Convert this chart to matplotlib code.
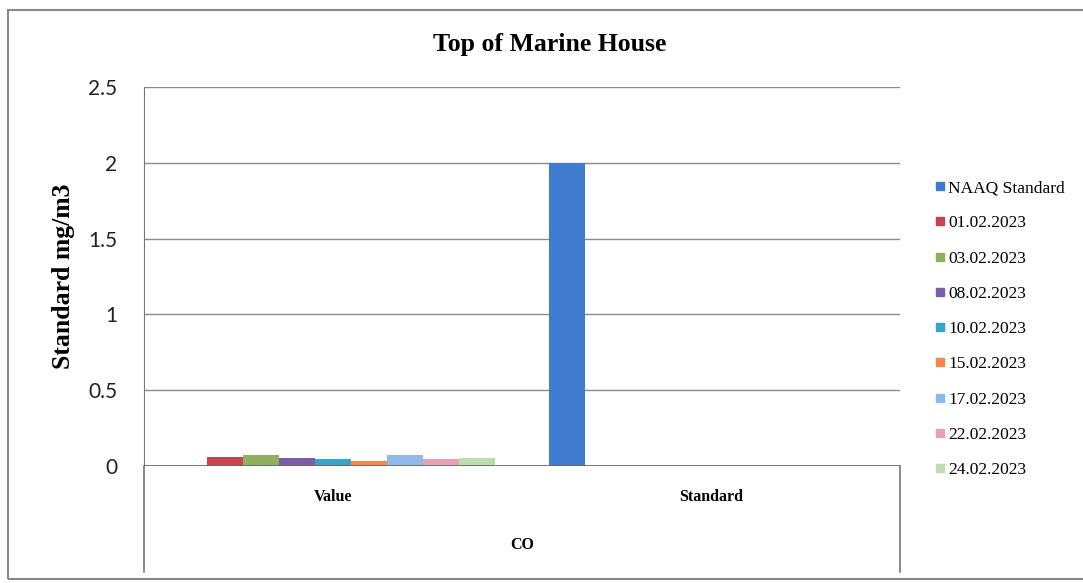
import matplotlib.pyplot as plt
from matplotlib.lines import Line2D
from matplotlib.patches import Rectangle

# data (CO, mg/m3)
categories = ['Value', 'Standard']
series_names = ['NAAQ Standard', '01.02.2023', '03.02.2023', '08.02.2023',
                '10.02.2023', '15.02.2023', '17.02.2023', '22.02.2023', '24.02.2023']
value_row = [0, 0.061, 0.070, 0.055, 0.044, 0.033, 0.073, 0.048, 0.055]
standard_row = [2, 0, 0, 0, 0, 0, 0, 0, 0]
colors = ['#3f7bcf', '#c8434f', '#8fb15f', '#7a5fa8', '#3aa3c8',
          '#f4884a', '#91b8ea', '#e6a2b5', '#bfdcae']
y_ticks = [0, 0.5, 1, 1.5, 2, 2.5]

serif = 'Liberation Serif'

fig = plt.figure(figsize=(10.83, 5.83), dpi=100)
ax = fig.add_axes([144 / 1083, 1 - 466 / 583, 756 / 1083, 379 / 583])

n = len(series_names)
w = 1 / (n + 1.5)
for i, name in enumerate(series_names):
    off = (i - (n - 1) / 2) * w
    ax.bar([0 + off, 1 + off], [value_row[i], standard_row[i]], width=w,
           color=colors[i], label=name, zorder=3)

ax.set_xlim(-0.5, 1.5)
ax.set_ylim(0, 2.5)
ax.set_yticks(y_ticks)
ax.set_yticklabels(['0', '0.5', '1', '1.5', '2', '2.5'], family='Lato', fontsize=15,
                   color='#222222')
ax.tick_params(axis='y', length=0, pad=19)
ax.tick_params(axis='x', length=0, labelbottom=False)
ax.grid(axis='y', color='#8a8a8a', linewidth=1.0, zorder=0)
for s in ['top', 'right', 'bottom']:
    ax.spines[s].set_visible(False)
ax.spines['left'].set_color('#777777')
ax.axhline(0, color='#666666', linewidth=1.2, zorder=4)

# multi-level category axis
for xa in [0, 1]:
    ax.add_line(Line2D([xa, xa], [0, -0.28], transform=ax.transAxes,
                       color='#777777', linewidth=1.2, clip_on=False))
for i, cat in enumerate(categories):
    ax.text(i, -0.082, cat, transform=ax.get_xaxis_transform(), ha='center',
            va='center', family=serif, fontweight='bold', fontsize=11.5)
ax.text(0.5, -0.208, 'CO', transform=ax.transAxes, ha='center', va='center',
        family=serif, fontweight='bold', fontsize=11.5)

ax.set_ylabel('Standard mg/m3', family=serif, fontweight='bold', fontsize=18.5,
              labelpad=10)
fig.text(550 / 1083, 1 - 45 / 583, 'Top of Marine House', ha='center', va='center',
         family=serif, fontweight='bold', fontsize=18.5)

handles = [Line2D([], [], marker='s', linestyle='none', markersize=6,
                  color=c) for c in colors]
fig.legend(handles, series_names, loc='upper left',
           bbox_to_anchor=(928 / 1083, 1 - 173 / 583), frameon=False,
           prop={'family': serif, 'size': 12.5}, handlelength=0.6,
           handletextpad=0.15, labelspacing=1.1, borderaxespad=0)

# outer chart border
fig.add_artist(Rectangle((8 / 1083, 1 - 579 / 583), 1 - 8 / 1083 + 0.01,
                         (579 - 10) / 583, transform=fig.transFigure,
                         fill=False, edgecolor='#888888', linewidth=1.5))

fig.savefig('out.png', dpi=100)
